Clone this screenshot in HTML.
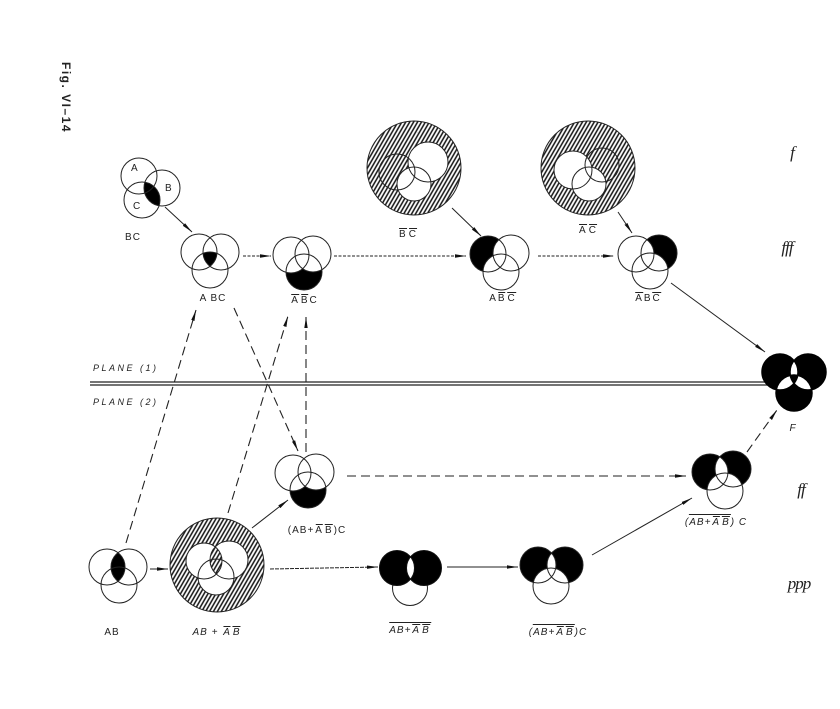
<!DOCTYPE html>
<html><head><meta charset="utf-8"><style>
html,body{margin:0;padding:0;background:#fff}
#w{position:relative;width:840px;height:709px;overflow:hidden;background:#fff}
svg{position:absolute;left:0;top:0}
.l{position:absolute;font-family:"Liberation Sans",sans-serif;font-size:10px;color:#222;letter-spacing:1px;white-space:nowrap;transform:translateX(-50%);line-height:12px}
.i{font-style:italic}
.o{display:inline-block;border-top:1px solid #222;padding-top:1px;line-height:10px;margin:0 1px}
.oo{display:inline-block;border-top:1px solid #222;padding-top:1px;line-height:13px}
.s{position:absolute;font-family:"Liberation Serif",serif;font-style:italic;font-size:17px;color:#222;white-space:nowrap;letter-spacing:-1px;transform:translateX(-50%)}
</style></head><body><div id="w">
<svg width="840" height="709" viewBox="0 0 840 709">
<defs>
<pattern id="h" width="3.4" height="10" patternUnits="userSpaceOnUse" patternTransform="rotate(30)">
<rect width="3.4" height="10" fill="#fff"/>
<line x1="1" y1="0" x2="1" y2="10" stroke="#111" stroke-width="1.5"/>
</pattern>
<marker id="ar" markerWidth="12" markerHeight="6" refX="11" refY="3" orient="auto" markerUnits="userSpaceOnUse"><path d="M0,1.3 L11,3 L0,4.7 z" fill="#111"/></marker>
<clipPath id="bcB"><circle cx="162" cy="188" r="18"/></clipPath>
<clipPath id="abcA"><circle cx="199" cy="252" r="18"/></clipPath>
<clipPath id="abcB"><circle cx="221" cy="252" r="18"/></clipPath>
<clipPath id="fA"><circle cx="780" cy="372" r="18"/></clipPath>
<clipPath id="fB"><circle cx="808" cy="372" r="18"/></clipPath>
<clipPath id="abA"><circle cx="107" cy="567" r="18"/></clipPath>
<clipPath id="rA"><circle cx="204" cy="561" r="18"/></clipPath>
<clipPath id="onA"><circle cx="397" cy="568" r="17.5"/></clipPath>
<clipPath id="ocA"><circle cx="538" cy="565" r="18"/></clipPath>
<clipPath id="rbA"><circle cx="710" cy="472" r="18"/></clipPath>
</defs>

<g fill="none" stroke="#222" stroke-width="1">
<line x1="90" y1="382" x2="768" y2="382" stroke-width="1.3"/>
<line x1="90" y1="385" x2="768" y2="385" stroke-width="1.3"/>

<line x1="165" y1="207" x2="192" y2="232" marker-end="url(#ar)"/>
<line x1="243" y1="256" x2="271" y2="256" stroke-dasharray="3 1.5" marker-end="url(#ar)"/>
<line x1="334" y1="256" x2="466" y2="256" stroke-dasharray="3 1.5" marker-end="url(#ar)"/>
<line x1="452" y1="208" x2="481" y2="236" marker-end="url(#ar)"/>
<line x1="538" y1="256" x2="614" y2="256" stroke-dasharray="3 1.5" marker-end="url(#ar)"/>
<line x1="618" y1="212" x2="632" y2="233" marker-end="url(#ar)"/>
<line x1="671" y1="283" x2="765" y2="352" marker-end="url(#ar)"/>
<line x1="150" y1="569" x2="168" y2="569" marker-end="url(#ar)"/>
<line x1="270" y1="569" x2="378" y2="567" stroke-dasharray="4 1" marker-end="url(#ar)"/>
<line x1="447" y1="567" x2="518" y2="567" marker-end="url(#ar)"/>
<line x1="592" y1="555" x2="692" y2="498" marker-end="url(#ar)"/>
<line x1="252" y1="528" x2="288" y2="500" marker-end="url(#ar)"/>

<g stroke-dasharray="9 5" stroke-width="1.1">
<line x1="126" y1="543" x2="196" y2="310" marker-end="url(#ar)"/>
<line x1="234" y1="308" x2="298" y2="451" marker-end="url(#ar)"/>
<line x1="228" y1="513" x2="288" y2="316" marker-end="url(#ar)"/>
<line x1="306" y1="452" x2="306" y2="317" marker-end="url(#ar)"/>
<line x1="347" y1="476" x2="686" y2="476" marker-end="url(#ar)"/>
<line x1="747" y1="452" x2="777" y2="410" marker-end="url(#ar)"/>
</g>
</g>

<g clip-path="url(#bcB)"><circle cx="142" cy="200" r="18" fill="#000"/></g>
<g fill="none" stroke="#222" stroke-width="1"><circle cx="139" cy="176" r="18"/><circle cx="162" cy="188" r="18"/><circle cx="142" cy="200" r="18"/></g>
<g font-family="Liberation Sans, sans-serif" font-size="10" fill="#222">
<text x="131" y="171">A</text><text x="165" y="191">B</text><text x="133" y="209">C</text></g>

<g clip-path="url(#abcA)"><g clip-path="url(#abcB)"><circle cx="210" cy="270" r="18" fill="#000"/></g></g>
<g fill="none" stroke="#222"><circle cx="199" cy="252" r="18"/><circle cx="221" cy="252" r="18"/><circle cx="210" cy="270" r="18"/></g>

<circle cx="304" cy="272" r="18" fill="#000"/>
<circle cx="291" cy="255" r="18" fill="#fff"/><circle cx="313" cy="254" r="18" fill="#fff"/>
<g fill="none" stroke="#222"><circle cx="291" cy="255" r="18"/><circle cx="313" cy="254" r="18"/><circle cx="304" cy="272" r="18"/></g>

<circle cx="414" cy="168" r="47" fill="url(#h)" stroke="#222"/>
<circle cx="428" cy="162" r="20" fill="#fff"/><circle cx="414" cy="184" r="17" fill="#fff"/>
<g fill="none" stroke="#222"><circle cx="397" cy="172" r="18"/><circle cx="428" cy="162" r="20"/><circle cx="414" cy="184" r="17"/></g>

<circle cx="488" cy="254" r="18" fill="#000"/>
<circle cx="511" cy="253" r="18" fill="#fff"/><circle cx="501" cy="272" r="18" fill="#fff"/>
<g fill="none" stroke="#222"><circle cx="488" cy="254" r="18"/><circle cx="511" cy="253" r="18"/><circle cx="501" cy="272" r="18"/></g>

<circle cx="588" cy="168" r="47" fill="url(#h)" stroke="#222"/>
<circle cx="573" cy="170" r="19" fill="#fff"/><circle cx="589" cy="184" r="17" fill="#fff"/>
<g fill="none" stroke="#222"><circle cx="573" cy="170" r="19"/><circle cx="602" cy="165" r="17"/><circle cx="589" cy="184" r="17"/></g>

<circle cx="659" cy="253" r="18" fill="#000"/>
<circle cx="636" cy="254" r="18" fill="#fff"/><circle cx="650" cy="271" r="18" fill="#fff"/>
<g fill="none" stroke="#222"><circle cx="636" cy="254" r="18"/><circle cx="659" cy="253" r="18"/><circle cx="650" cy="271" r="18"/></g>

<circle cx="780" cy="372" r="18" fill="#000"/><circle cx="808" cy="372" r="18" fill="#000"/><circle cx="794" cy="393" r="18" fill="#000"/>
<g clip-path="url(#fA)"><circle cx="808" cy="372" r="18" fill="#fff"/><circle cx="794" cy="393" r="18" fill="#fff"/></g>
<g clip-path="url(#fB)"><circle cx="794" cy="393" r="18" fill="#fff"/></g>
<g clip-path="url(#fA)"><g clip-path="url(#fB)"><circle cx="794" cy="393" r="18" fill="#000"/></g></g>
<g fill="none" stroke="#000" stroke-width="1.5"><circle cx="780" cy="372" r="18"/><circle cx="808" cy="372" r="18"/><circle cx="794" cy="393" r="18"/></g>

<g clip-path="url(#abA)"><circle cx="129" cy="567" r="18" fill="#000"/></g>
<g fill="none" stroke="#222"><circle cx="107" cy="567" r="18"/><circle cx="129" cy="567" r="18"/><circle cx="119" cy="585" r="18"/></g>

<circle cx="217" cy="565" r="47" fill="url(#h)" stroke="#222"/>
<circle cx="204" cy="561" r="18" fill="#fff"/><circle cx="229" cy="560" r="19" fill="#fff"/><circle cx="216" cy="577" r="18" fill="#fff"/>
<g clip-path="url(#rA)"><circle cx="229" cy="560" r="19" fill="url(#h)"/></g>
<g fill="none" stroke="#222"><circle cx="204" cy="561" r="18"/><circle cx="229" cy="560" r="19"/><circle cx="216" cy="577" r="18"/></g>

<circle cx="308" cy="490" r="18" fill="#000"/>
<circle cx="293" cy="473" r="18" fill="#fff"/><circle cx="316" cy="472" r="18" fill="#fff"/>
<g fill="none" stroke="#222"><circle cx="293" cy="473" r="18"/><circle cx="316" cy="472" r="18"/><circle cx="308" cy="490" r="18"/></g>

<circle cx="410" cy="588" r="17.5" fill="none" stroke="#222"/>
<circle cx="397" cy="568" r="17.5" fill="#000"/><circle cx="424" cy="568" r="17.5" fill="#000"/>
<g clip-path="url(#onA)"><circle cx="424" cy="568" r="17.5" fill="#fff"/></g>
<g fill="none" stroke="#111"><circle cx="397" cy="568" r="17.5"/><circle cx="424" cy="568" r="17.5"/></g>

<circle cx="538" cy="565" r="18" fill="#000"/><circle cx="565" cy="565" r="18" fill="#000"/>
<g clip-path="url(#ocA)"><circle cx="565" cy="565" r="18" fill="#fff"/></g>
<circle cx="551" cy="586" r="18" fill="#fff"/>
<g fill="none" stroke="#222"><circle cx="538" cy="565" r="18"/><circle cx="565" cy="565" r="18"/><circle cx="551" cy="586" r="18"/></g>

<circle cx="710" cy="472" r="18" fill="#000"/><circle cx="733" cy="469" r="18" fill="#000"/>
<g clip-path="url(#rbA)"><circle cx="733" cy="469" r="18" fill="#fff"/></g>
<circle cx="725" cy="491" r="18" fill="#fff"/>
<g fill="none" stroke="#222"><circle cx="710" cy="472" r="18"/><circle cx="733" cy="469" r="18"/><circle cx="725" cy="491" r="18"/></g>

<text x="0" y="0" transform="translate(62,62) rotate(90)" font-family="Liberation Sans, sans-serif" font-weight="bold" font-size="12" letter-spacing="1.5" fill="#222">Fig. VI–14</text>
</svg>

<div class="l" style="left:133px;top:232px">BC</div>
<div class="l" style="left:213px;top:293px">A BC</div>
<div class="l" style="left:304px;top:294px"><span class="o">A</span><span class="o">B</span>C</div>
<div class="l" style="left:408px;top:228px"><span class="o">B</span><span class="o">C</span></div>
<div class="l" style="left:503px;top:292px">A<span class="o">B</span><span class="o">C</span></div>
<div class="l" style="left:588px;top:224px"><span class="o">A</span><span class="o">C</span></div>
<div class="l" style="left:648px;top:292px"><span class="o">A</span>B<span class="o">C</span></div>
<div class="l i" style="left:793px;top:423px">F</div>
<div class="l i" style="left:93px;top:362px;transform:none;font-size:9px;letter-spacing:2.5px">PLANE (1)</div>
<div class="l i" style="left:93px;top:396px;transform:none;font-size:9px;letter-spacing:2.5px">PLANE (2)</div>
<div class="l" style="left:112px;top:627px">AB</div>
<div class="l i" style="left:217px;top:626px">AB + <span class="o">A</span><span class="o">B</span></div>
<div class="l" style="left:317px;top:524px">(AB+<span class="o">A</span><span class="o">B</span>)C</div>
<div class="l i" style="left:410px;top:622px"><span class="oo">AB+<span class="o">A</span><span class="o">B</span></span></div>
<div class="l i" style="left:558px;top:624px">(<span class="oo">AB+<span class="o">A</span><span class="o">B</span></span>)C</div>
<div class="l i" style="left:716px;top:514px">(<span class="oo">AB+<span class="o">A</span><span class="o">B</span></span>) C</div>

<div class="s" style="left:792px;top:143px">f</div>
<div class="s" style="left:787px;top:238px">fff</div>
<div class="s" style="left:801px;top:480px">ff</div>
<div class="s" style="left:799px;top:574px">ppp</div>
</div></body></html>
